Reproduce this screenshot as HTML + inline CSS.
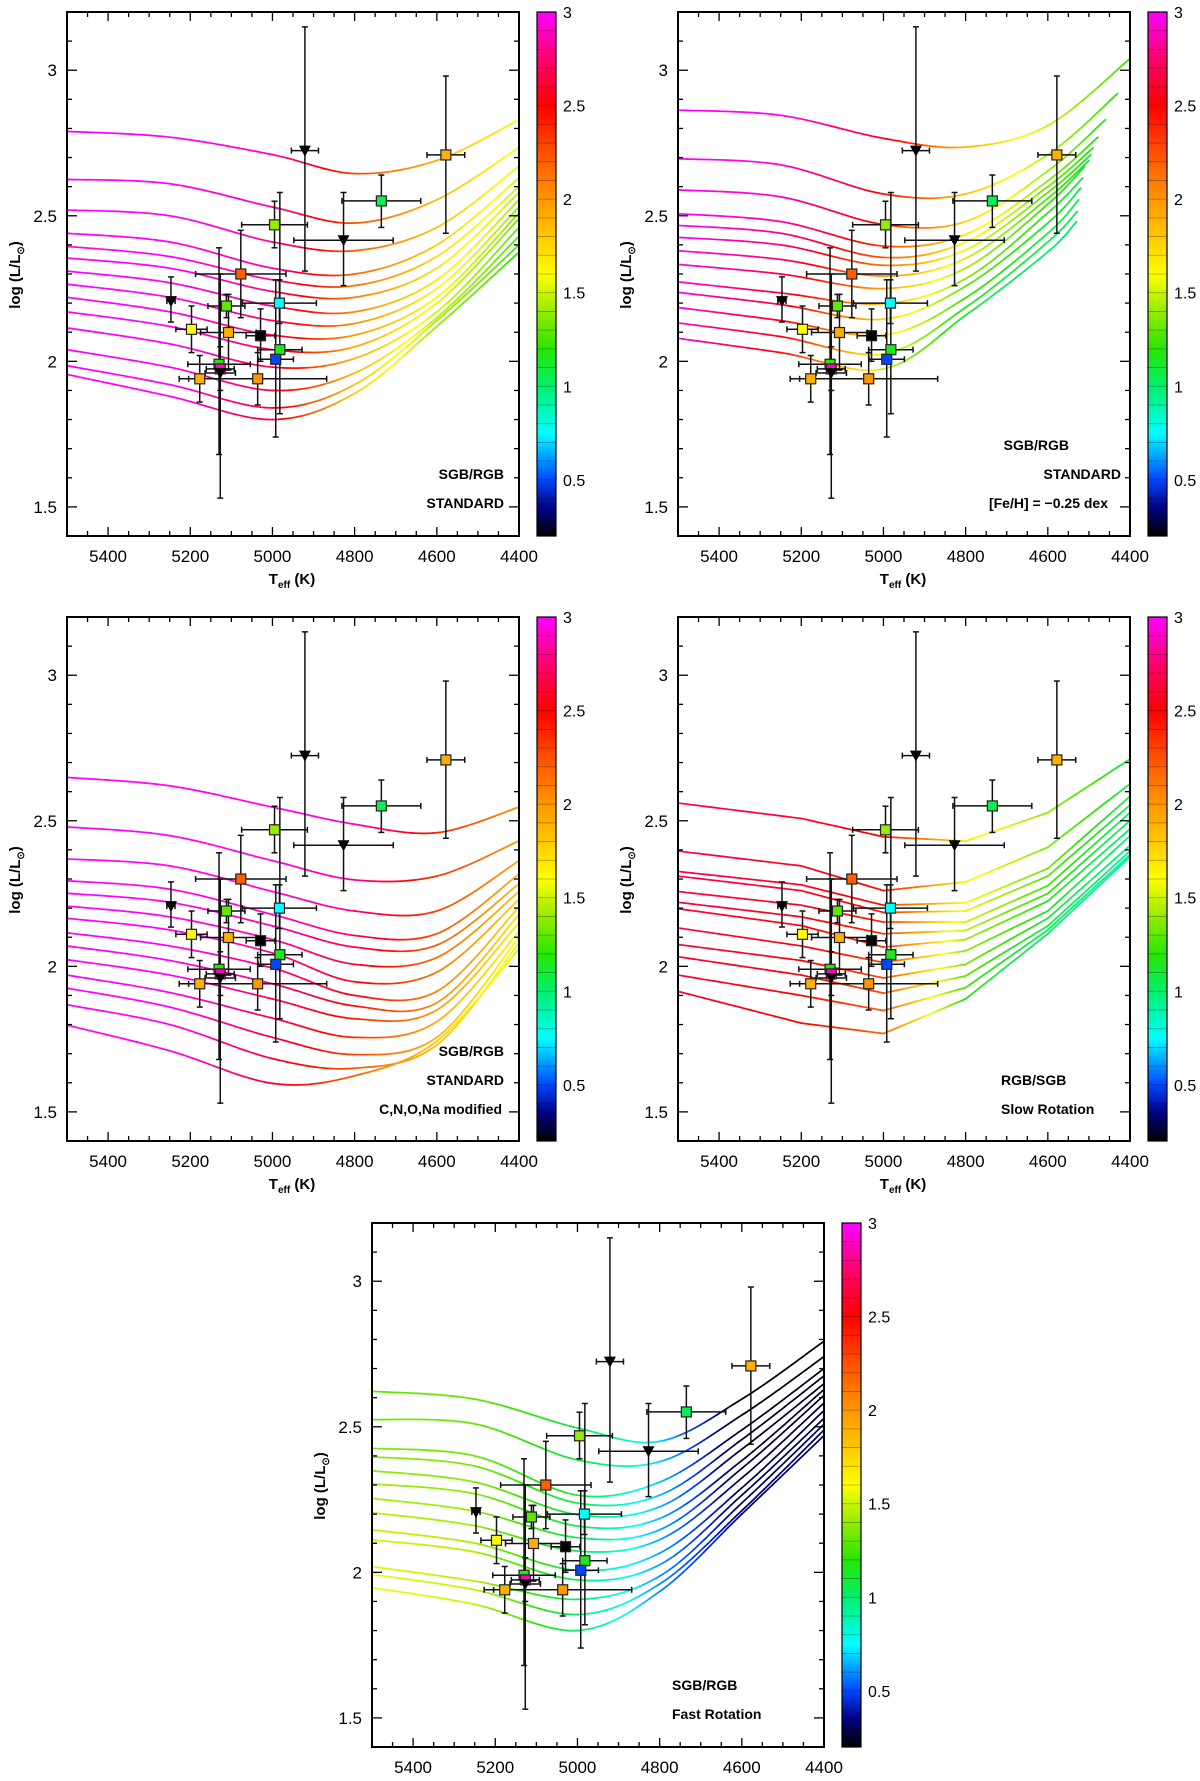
<!DOCTYPE html>
<html><head><meta charset="utf-8"><style>
html,body{margin:0;padding:0;background:#fff;}
svg{display:block;font-family:"Liberation Sans",sans-serif;}
</style></head>
<body>
<svg id="fig" width="1200" height="1781" viewBox="0 0 1200 1781" xmlns="http://www.w3.org/2000/svg">
<defs>
<linearGradient id="cmap" x1="0" y1="1" x2="0" y2="0"></linearGradient>
</defs>
</svg>
<script>
// ---- observed stars (shared by all panels) ----
const starT   = [4921,4578,4735,4827,4995,5077,5247,5112,4983,5197,5107,5029,4982,4992,5130,5127,5127,5177,5036];
const starL   = [2.724,2.709,2.551,2.416,2.469,2.30,2.207,2.19,2.20,2.11,2.099,2.088,2.04,2.007,1.99,1.974,1.96,1.94,1.94];
const starXerr= [33,46,96,121,80,110,10,45,90,38,68,35,54,43,76,34,37,50,168];
const starYhi = [3.149,2.98,2.64,2.58,2.55,2.45,2.29,2.23,2.28,2.19,2.23,2.18,2.58,2.28,2.39,2.05,2.30,2.02,2.03];
const starYlo = [2.31,2.44,2.46,2.26,2.39,2.15,2.135,2.15,2.13,2.03,1.97,2.00,1.82,1.74,1.68,1.90,1.53,1.86,1.85];
const starVal = [null,1.9,1.05,null,1.4,2.2,null,1.3,0.75,1.6,1.9,0.2,1.15,0.5,1.2,2.9,null,1.9,2.0];
const starShape=["tri","sq","sq","tri","sq","sq","tri","sq","sq","sq","sq","sq","sq","sq","sq","sq","tri","sq","sq"];

// ---- axis tick labels ----
const xTickLabels = [5400,5200,5000,4800,4600,4400];
const yTickLabels = [1.5,2,2.5,3];
const cbTickLabels = [0.5,1,1.5,2,2.5,3];

// ---- panel 1: standard ----
const p1T = [5500,5250,5000,4800,4600,4400];
const p1Tracks = [
 [2.79,2.77,2.71,2.645,2.69,2.83],
 [2.625,2.61,2.53,2.475,2.555,2.735],
 [2.52,2.50,2.41,2.38,2.46,2.67],
 [2.44,2.41,2.32,2.30,2.40,2.63],
 [2.395,2.36,2.28,2.26,2.36,2.60],
 [2.355,2.32,2.24,2.22,2.32,2.58],
 [2.31,2.27,2.19,2.17,2.28,2.555],
 [2.265,2.22,2.14,2.13,2.25,2.53],
 [2.22,2.17,2.09,2.09,2.22,2.51],
 [2.17,2.12,2.04,2.05,2.20,2.49],
 [2.115,2.06,1.98,2.01,2.17,2.46],
 [2.04,1.98,1.90,1.96,2.15,2.43],
 [1.985,1.92,1.84,1.92,2.14,2.40],
 [1.955,1.88,1.80,1.89,2.12,2.375]];
const p1ColTop = [3,3,2.9,2.3,1.9,1.6];
const p1ColBot = [3,3,2.6,1.8,1.4,1.2];

// ---- panel 2: [Fe/H]=-0.25 ----
const p2T = [5500,5250,5000,4800,4600,4400];
const p2End = [4400,4430,4460,4478,4490,4495,4500,4510,4515,4520,4525,4528,4530];
const p2Tracks = [
 [2.863,2.845,2.766,2.736,2.81,3.04],
 [2.696,2.675,2.575,2.575,2.71,2.92],
 [2.589,2.565,2.47,2.48,2.654,2.83],
 [2.507,2.48,2.396,2.436,2.62,2.77],
 [2.467,2.44,2.357,2.41,2.60,2.733],
 [2.426,2.40,2.33,2.383,2.58,2.71],
 [2.38,2.35,2.293,2.354,2.56,2.69],
 [2.333,2.30,2.25,2.32,2.54,2.67],
 [2.273,2.235,2.198,2.284,2.51,2.63],
 [2.237,2.195,2.145,2.258,2.475,2.595],
 [2.185,2.14,2.09,2.218,2.44,2.555],
 [2.132,2.085,2.026,2.185,2.41,2.515],
 [2.079,2.03,1.974,2.158,2.376,2.48]];
const p2ColTop = [3,3,2.6,1.9,1.5,1.2];
const p2ColBot = [3,2.5,1.5,1.1,1.0,1.0];

// ---- panel 3: C,N,O,Na modified ----
const p3T = [5500,5250,5000,4800,4600,4400];
const p3Tracks = [
 [2.649,2.62,2.547,2.488,2.459,2.547],
 [2.479,2.449,2.363,2.297,2.31,2.431],
 [2.369,2.345,2.257,2.19,2.19,2.363],
 [2.294,2.265,2.178,2.106,2.112,2.317],
 [2.251,2.22,2.139,2.066,2.073,2.284],
 [2.207,2.17,2.092,2.007,2.03,2.257],
 [2.165,2.125,2.046,1.947,1.98,2.23],
 [2.115,2.07,1.994,1.90,1.914,2.204],
 [2.070,2.02,1.94,1.864,1.875,2.178],
 [2.023,1.97,1.888,1.82,1.85,2.15],
 [1.970,1.91,1.822,1.756,1.81,2.12],
 [1.925,1.86,1.756,1.697,1.756,2.10],
 [1.868,1.80,1.683,1.65,1.73,2.08],
 [1.798,1.71,1.598,1.624,1.743,2.06]];
const p3ColTop = [3,3,3,2.9,2.4,2.0];
const p3ColBot = [3,3,2.6,2.2,1.8,1.5];

// ---- panel 4: slow rotation ----
const p4T = [5500,5200,5000,4800,4600,4400];
const p4Tracks = [
 [2.561,2.508,2.445,2.43,2.528,2.712],
 [2.396,2.345,2.26,2.29,2.409,2.627],
 [2.326,2.28,2.21,2.218,2.336,2.584],
 [2.310,2.26,2.185,2.19,2.31,2.554],
 [2.257,2.21,2.152,2.152,2.277,2.528],
 [2.220,2.17,2.112,2.123,2.25,2.501],
 [2.198,2.14,2.066,2.092,2.224,2.472],
 [2.132,2.07,2.013,2.053,2.19,2.448],
 [2.075,2.02,1.96,2.007,2.165,2.415],
 [2.033,1.97,1.908,1.967,2.139,2.396],
 [1.970,1.90,1.848,1.927,2.125,2.383],
 [1.914,1.805,1.769,1.888,2.112,2.376]];
const p4ColTop = [2.7,2.6,2.5,1.7,1.4,1.1];
const p4ColBot = [2.6,2.5,2.2,1.2,1.0,0.9];

// ---- panel 5: fast rotation ----
const p5T = [5500,5250,5000,4800,4600,4400];
const p5Tracks = [
 [2.622,2.595,2.496,2.45,2.595,2.794],
 [2.525,2.51,2.386,2.38,2.54,2.741],
 [2.426,2.40,2.265,2.31,2.489,2.70],
 [2.397,2.365,2.238,2.265,2.456,2.675],
 [2.349,2.31,2.198,2.225,2.423,2.648],
 [2.304,2.27,2.159,2.185,2.384,2.628],
 [2.254,2.21,2.119,2.146,2.357,2.608],
 [2.205,2.16,2.073,2.112,2.324,2.582],
 [2.146,2.10,2.007,2.066,2.29,2.556],
 [2.112,2.07,1.974,2.026,2.265,2.529],
 [2.020,1.97,1.907,1.987,2.238,2.509],
 [1.993,1.94,1.855,1.96,2.212,2.489],
 [1.947,1.89,1.80,1.934,2.20,2.47]];
const p5ColTop = [1.3,1.3,1.1,0.7,0.2,0.2];
const p5ColBot = [1.6,1.5,1.0,0.6,0.35,0.3];

const NS="http://www.w3.org/2000/svg";
const svg=document.getElementById('fig');
const W=452,H=524,TMAX=5500,TMIN=4400,LMIN=1.4,LMAX=3.2,VMIN=0.2,VMAX=3;
const stops=[[0.2,[0,0,0]],[0.35,[0,0,130]],[0.5,[0,70,255]],[0.75,[0,255,255]],[1.0,[0,240,110]],[1.2,[40,230,0]],[1.4,[150,235,0]],[1.6,[255,255,0]],[1.8,[255,200,0]],[2.0,[255,150,0]],[2.25,[255,80,0]],[2.5,[255,0,0]],[2.75,[255,0,110]],[3.0,[255,0,255]]];
function cmap(v){
  if(v<=stops[0][0]) return 'rgb(0,0,0)';
  for(let i=1;i<stops.length;i++){ if(v<=stops[i][0]){const a=stops[i-1],b=stops[i];const t=(v-a[0])/(b[0]-a[0]);
    const c=a[1].map((x,k)=>Math.round(x+(b[1][k]-x)*t)); return 'rgb('+c.join(',')+')';}}
  return 'rgb(255,0,255)';
}
function mk(tag,attrs,parent){const e=document.createElementNS(NS,tag);for(const k in attrs)e.setAttribute(k,attrs[k]);(parent||svg).appendChild(e);return e;}
const grad=document.getElementById('cmap');
for(let v=VMIN;v<=VMAX+1e-9;v+=0.05){mk('stop',{offset:((v-VMIN)/(VMAX-VMIN)).toFixed(4),'stop-color':cmap(v)},grad);}

function catmull(p0,p1,p2,p3,t){const t2=t*t,t3=t2*t;return 0.5*((2*p1)+(-p0+p2)*t+(2*p0-5*p1+4*p2-p3)*t2+(-p0+3*p1-3*p2+p3)*t3);}

const panels=[
 {fx:67,fy:12,T:p1T,tracks:p1Tracks,ct:p1ColTop,cb:p1ColBot,smooth:true,end:null,notes:[["SGB/RGB",437,462,"end"],["STANDARD",437,491,"end"]]},
 {fx:678,fy:12,T:p2T,tracks:p2Tracks,ct:p2ColTop,cb:p2ColBot,smooth:true,end:p2End,notes:[["SGB/RGB",391,433,"end"],["STANDARD",443,462,"end"],["[Fe/H] = \u22120.25 dex",430,491,"end"]]},
 {fx:67,fy:617,T:p3T,tracks:p3Tracks,ct:p3ColTop,cb:p3ColBot,smooth:true,end:null,notes:[["SGB/RGB",437,434,"end"],["STANDARD",437,463,"end"],["C,N,O,Na modified",435,492,"end"]]},
 {fx:678,fy:617,T:p4T,tracks:p4Tracks,ct:p4ColTop,cb:p4ColBot,smooth:false,end:null,notes:[["RGB/SGB",323,463,"start"],["Slow Rotation",323,492,"start"]]},
 {fx:372,fy:1223,T:p5T,tracks:p5Tracks,ct:p5ColTop,cb:p5ColBot,smooth:true,end:null,notes:[["SGB/RGB",300,462,"start"],["Fast Rotation",300,491,"start"]]}
];

panels.forEach((P,pi)=>{
  const g=mk('g',{});
  
  
  const X=T=>P.fx+(TMAX-T)/(TMAX-TMIN)*W;
  const Y=L=>P.fy+(LMAX-L)/(LMAX-LMIN)*H;
  const clip=mk('clipPath',{id:'clip'+pi},g);
  mk('rect',{x:P.fx,y:P.fy,width:W,height:H},clip);
  const tg=mk('g',{'clip-path':'url(#clip'+pi+')'},g);
  
  
  const n=P.tracks.length;
  P.tracks.forEach((tr,ti)=>{
    const f=n>1?ti/(n-1):0;
    const cols=P.ct.map((c,k)=>c+(P.cb[k]-c)*f);
    const Ts=P.T.slice(); if(P.end) Ts[Ts.length-1]=P.end[ti];
    const N=24; let prev=null;
    const trk=mk('g',{},tg);
    
    
    for(let i=0;i<Ts.length-1;i++){
      const i0=Math.max(0,i-1),i3=Math.min(Ts.length-1,i+2);
      for(let s=0;s<=N;s++){
        const t=s/N; let tt,ll;
        if(P.smooth){tt=catmull(Ts[i0],Ts[i],Ts[i+1],Ts[i3],t);ll=catmull(tr[i0],tr[i],tr[i+1],tr[i3],t);}
        else{tt=Ts[i]+(Ts[i+1]-Ts[i])*t;ll=tr[i]+(tr[i+1]-tr[i])*t;}
        const pt=[X(tt),Y(ll)],cv=cols[i]+(cols[i+1]-cols[i])*t;
        if(prev){mk('line',{x1:prev[0].toFixed(2),y1:prev[1].toFixed(2),x2:pt[0].toFixed(2),y2:pt[1].toFixed(2),stroke:cmap(cv),'stroke-width':1.7,'stroke-linecap':'round'},trk);}
        prev=pt;
      }
    }
  });
  const fr=mk('rect',{x:P.fx,y:P.fy,width:W,height:H,fill:'none',stroke:'#000','stroke-width':2},g);
  
  
  for(let T=5450;T>=4400;T-=50){
    const major=T%200===0, len=major?9:5, x=X(T);
    mk('line',{x1:x,y1:P.fy+H,x2:x,y2:P.fy+H-len,stroke:'#000','stroke-width':1.3},g);
    mk('line',{x1:x,y1:P.fy,x2:x,y2:P.fy+len,stroke:'#000','stroke-width':1.3},g);
  }
  xTickLabels.forEach(v=>{
    const t=mk('text',{x:X(v),y:P.fy+H+26,'text-anchor':'middle','font-size':17},g);t.textContent=v;
    
    
  });
  for(let k=15;k<=32;k++){
    const L=k/10, major=k%5===0, len=major?10:5, y=Y(L);
    mk('line',{x1:P.fx,y1:y,x2:P.fx+len,y2:y,stroke:'#000','stroke-width':1.3},g);
    mk('line',{x1:P.fx+W,y1:y,x2:P.fx+W-len,y2:y,stroke:'#000','stroke-width':1.3},g);
  }
  yTickLabels.forEach(v=>{
    const t=mk('text',{x:P.fx-10,y:Y(v)+6,'text-anchor':'end','font-size':17},g);t.textContent=v;
    
    
  });
  const xt=mk('text',{x:P.fx+225,y:P.fy+H+48,'text-anchor':'middle','font-size':15,'font-weight':'bold'},g);
  xt.innerHTML='T<tspan font-size="10" dy="4">eff</tspan><tspan dy="-4"> (K)</tspan>';
  
  
  const yt=mk('text',{x:0,y:0,'text-anchor':'middle','font-size':15,'font-weight':'bold',transform:'translate('+(P.fx-47)+','+(P.fy+263)+') rotate(-90)'},g);
  yt.innerHTML='log (L/L<tspan font-size="10" dy="4">\u2299</tspan><tspan dy="-4">)</tspan>';
  
  
  P.notes.forEach(nt=>{
    const t=mk('text',{x:P.fx+nt[1],y:P.fy+nt[2]+5,'text-anchor':nt[3],'font-size':14,'font-weight':'bold'},g);t.textContent=nt[0];
    
    
  });
  const sg=mk('g',{},g);
  
  
  starT.forEach((T,i)=>{
    const x=X(T),y=Y(starL[i]),x1=X(T+starXerr[i]),x2=X(T-starXerr[i]),y1=Y(starYhi[i]),y2=Y(starYlo[i]);
    const eb=mk('g',{stroke:'#111','stroke-width':1.5},sg);
    
    
    mk('line',{x1:x1,y1:y,x2:x2,y2:y},eb);
    mk('line',{x1:x1,y1:y-3,x2:x1,y2:y+3},eb);
    mk('line',{x1:x2,y1:y-3,x2:x2,y2:y+3},eb);
    mk('line',{x1:x,y1:y1,x2:x,y2:y2},eb);
    mk('line',{x1:x-3,y1:y1,x2:x+3,y2:y1},eb);
    mk('line',{x1:x-3,y1:y2,x2:x+3,y2:y2},eb);
  });
  starT.forEach((T,i)=>{
    const x=X(T),y=Y(starL[i]);let m;
    if(starShape[i]==='tri'){m=mk('polygon',{points:(x-6)+','+(y-5)+' '+(x+6)+','+(y-5)+' '+x+','+(y+6),fill:'#000'},sg);}
    else{m=mk('rect',{x:x-5,y:y-5,width:10,height:10,fill:cmap(starVal[i]),stroke:'#222','stroke-width':1.2},sg);}
    
    
  });
  const cbx=P.fx+470, CY=v=>P.fy+(VMAX-v)/(VMAX-VMIN)*H;
  const cbar=mk('rect',{x:cbx,y:P.fy,width:19,height:H,fill:'url(#cmap)',stroke:'#000','stroke-width':1.2},g);
  
  
  for(let k=3;k<30;k++){const y=CY(k/10);mk('line',{x1:cbx,y1:y,x2:cbx+19,y2:y,stroke:'rgba(0,0,0,0.35)','stroke-width':0.8},g);}
  cbTickLabels.forEach(v=>{
    const t=mk('text',{x:cbx+26,y:CY(v)+6,'font-size':16},g);t.textContent=v;
    
    
  });
});
</script>
</body></html>
